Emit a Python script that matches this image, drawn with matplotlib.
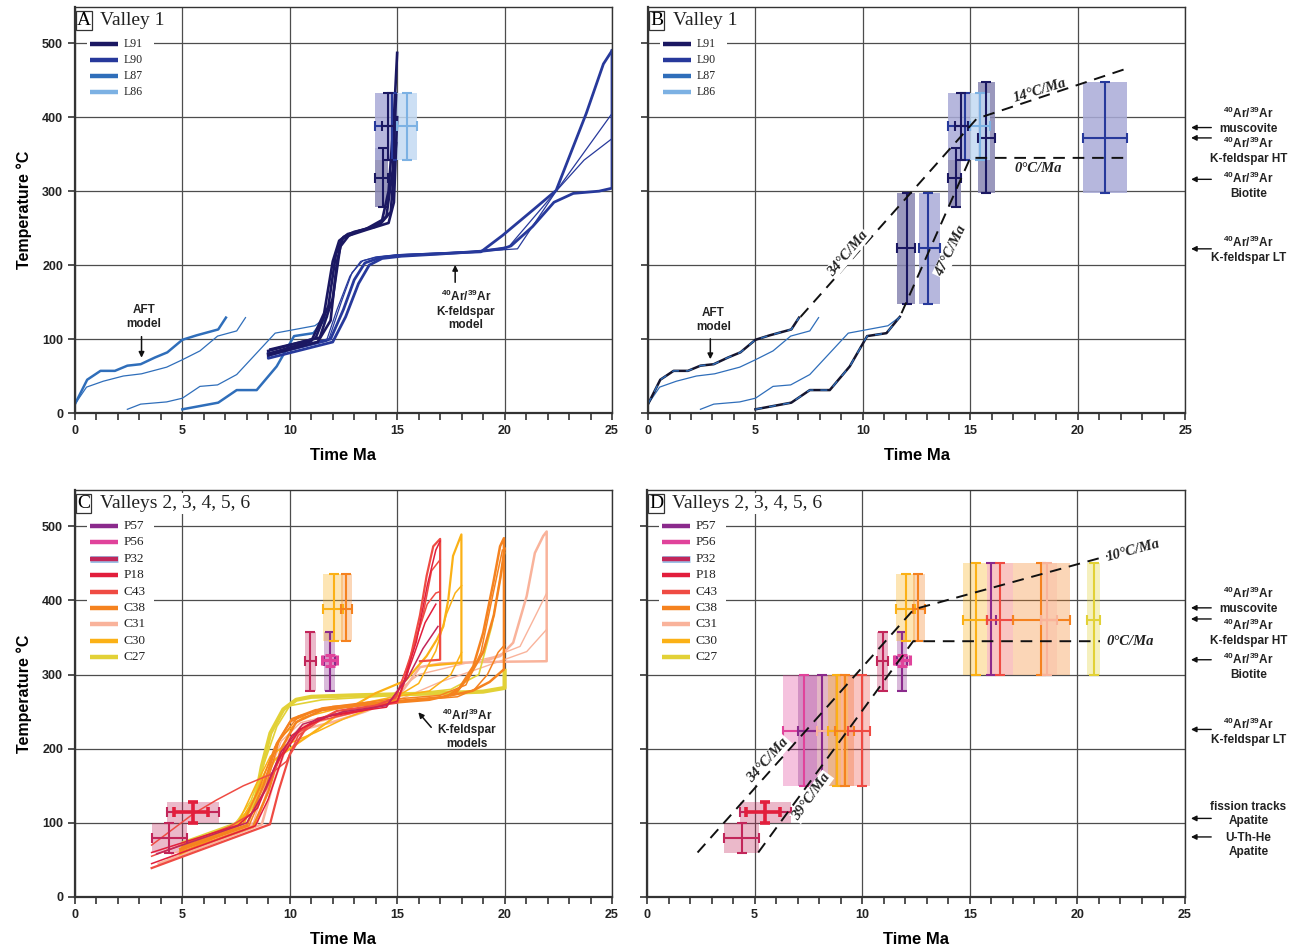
import matplotlib
matplotlib.use("Agg")
import matplotlib.pyplot as plt
import matplotlib.patheffects as pe
from matplotlib.patches import Rectangle
from matplotlib.ticker import MultipleLocator

plt.rcParams["font.family"] = ["Liberation Sans", "DejaVu Sans"]
plt.rcParams["mathtext.fontset"] = "custom"
plt.rcParams["mathtext.rm"] = "Liberation Sans:bold"
plt.rcParams["mathtext.default"] = "rm"

SERIF = ["Liberation Serif", "DejaVu Serif"]
AR = r"$^{40}$Ar/$^{39}$Ar"

# ---------------- Valley 1 (panels A and B) ----------------
v1_samples = ["L91", "L90", "L87", "L86"]
v1_colors = {"L91": "#1b1862", "L90": "#27399b", "L87": "#2f6eba", "L86": "#7cb1e3"}
v1_fills = {"L91": "#8886b2", "L90": "#a9abd8", "L86": "#c4daf3"}

# AFT model paths, (time Ma, temperature C)
aft_upper_thick = [(0, 12), (0.57, 45), (1.19, 57), (1.86, 57), (2.44, 64), (3.06, 66), (3.72, 75),
                   (4.3, 82), (5.0, 99), (5.66, 105), (6.67, 113), (7.03, 129)]
aft_upper_thin = [(0, 12), (0.54, 35), (1.32, 43), (2.25, 50), (3.1, 53), (4.27, 62), (5.0, 72),
                  (5.82, 84), (6.64, 104), (7.53, 111), (7.94, 129)]
aft_lower_thin = [(2.44, 5), (3.06, 12), (4.27, 15), (5.0, 20), (5.82, 36), (6.64, 38), (7.53, 52),
                  (9.32, 108), (11.17, 118), (11.72, 130)]
aft_lower_thick = [(5.0, 5), (6.67, 14), (7.53, 31), (8.46, 31), (9.39, 63), (10.2, 104), (11.1, 108),
                   (11.72, 130)]

# K-feldspar model paths
l91_paths = [
    [(9.0, 80), (11.0, 97), (11.6, 135), (12.0, 205), (12.3, 233), (12.7, 242), (13.5, 248), (14.3, 261),
     (14.6, 300), (14.85, 400), (15.0, 487)],
    [(9.0, 84), (11.2, 101), (11.8, 145), (12.15, 215), (12.5, 238), (13.0, 245), (14.0, 252), (14.5, 266),
     (14.8, 330), (14.95, 430)],
    [(9.1, 86), (11.4, 102), (12.0, 155), (12.35, 225), (12.75, 240), (13.6, 248), (14.6, 257), (14.85, 285),
     (15.0, 400)],
    [(9.0, 78), (11.3, 96), (11.9, 125), (12.2, 205), (12.45, 236), (13.2, 246), (14.2, 255), (14.7, 272),
     (14.95, 365)],
]
l90_paths = [
    [(9.0, 82), (9.0, 74), (12.0, 96), (12.6, 130), (13.2, 175), (13.7, 200), (14.3, 209), (15.2, 212),
     (17.0, 215), (19.0, 219), (19.9, 222), (20.3, 226), (21.3, 252), (22.3, 285), (23.2, 297), (24.4, 300),
     (25.0, 304), (25.0, 490)],
    [(9.0, 80), (11.9, 100), (12.5, 140), (13.0, 180), (13.5, 203), (14.2, 210), (15.0, 213), (18.9, 218),
     (19.9, 240), (21.3, 274), (22.4, 301), (23.8, 405), (24.6, 472), (25.0, 490)],
    [(9.0, 77), (11.8, 98), (12.4, 150), (12.9, 190), (13.4, 206), (14.1, 211), (15.2, 214), (18.5, 218),
     (20.2, 225), (22.4, 300), (25.0, 405)],
    [(9.0, 78), (11.7, 97), (12.2, 140), (12.8, 185), (13.3, 205), (14.0, 211), (15.0, 214), (19.0, 219),
     (20.6, 222), (22.4, 300), (23.7, 342), (25.0, 371)],
]
l90_widths = [2.0, 2.0, 0.9, 0.9]

# sample, t, t_lo, t_hi, T, T_lo, T_hi, shaded, linewidth
v1_mica_ages = [
    ("L91", 14.34, 13.98, 14.55, 318, 278, 358, True, 1.5),   # biotite
    ("L90", 14.76, 13.98, 15.0, 388, 342, 433, True, 1.5),    # muscovite
    ("L91", 14.55, 14.3, 14.9, 388, 342, 433, False, 1.5),
    ("L86", 15.45, 15.0, 15.9, 388, 342, 433, True, 1.5),
]
v1_kfs_ages = [
    ("L91", 12.05, 11.6, 12.45, 223, 148, 298, True, 1.5),    # K-feldspar LT
    ("L90", 13.05, 12.6, 13.6, 223, 148, 298, True, 1.5),
    ("L91", 15.75, 15.35, 16.15, 372, 298, 448, True, 1.5),   # K-feldspar HT
    ("L90", 21.28, 20.25, 22.3, 372, 298, 448, True, 1.5),
]
v1_rate_upper = [(7.1, 130), (15.3, 398), (22.2, 465)]
v1_rate_lower = [(11.8, 135), (15.0, 345), (22.3, 345)]

# ---------------- Valleys 2-6 (panels C and D) ----------------
v2_samples = ["P57", "P56", "P32", "P18", "C43", "C38", "C31", "C30", "C27"]
v2_colors = {"P57": "#8b2a8c", "P56": "#e0439b", "P32": "#c2265a", "P18": "#e21e3c", "C43": "#ef4b43",
             "C38": "#f5821f", "C31": "#f9b39b", "C30": "#fbb116", "C27": "#e2d137"}

c31_paths = [
    [(3.9, 45), (8.7, 98), (9.2, 150), (9.8, 200), (10.6, 226), (12.0, 236), (13.5, 250), (15.0, 268),
     (16.06, 310), (17.0, 315), (19.0, 317), (21.96, 318), (21.96, 493), (21.8, 487), (21.41, 464),
     (21.03, 406), (20.4, 343), (19.8, 325), (19.0, 318)],
    [(4.3, 52), (8.5, 100), (9.0, 150), (9.7, 205), (10.5, 230), (12.0, 241), (14.0, 256), (16.0, 300),
     (18.0, 314), (19.5, 324), (20.72, 338), (21.5, 383), (21.96, 410)],
    [(4.5, 58), (8.3, 100), (8.9, 155), (9.6, 210), (10.5, 235), (12.5, 250), (15.0, 265), (17.0, 290),
     (19.0, 310), (21.03, 331), (21.96, 361)],
]
c27_paths = [
    [(5.0, 70), (7.4, 96), (8.0, 112), (8.4, 131), (8.7, 176), (9.1, 221), (9.7, 253), (10.3, 266),
     (11.0, 270), (13.0, 272), (16.0, 274), (19.0, 277), (20.0, 282), (20.0, 305)],
    [(5.0, 74), (7.5, 100), (8.2, 130), (8.8, 180), (9.4, 230), (10.0, 258), (11.5, 266), (15.0, 272),
     (17.5, 280), (18.8, 300), (19.4, 365), (19.8, 430), (20.0, 464)],
]
c30_paths = [
    [(4.9, 58), (7.6, 96), (8.5, 140), (9.3, 185), (10.0, 200), (11.0, 220), (12.2, 245), (14.0, 275),
     (15.4, 292), (16.37, 325), (16.84, 347), (17.15, 365), (17.38, 401), (17.6, 460), (17.99, 489),
     (17.99, 316), (16.5, 312)],
    [(4.9, 62), (7.6, 100), (8.4, 150), (9.1, 190), (9.8, 205), (11.2, 222), (12.5, 240), (14.5, 262),
     (16.0, 288), (16.8, 332), (17.3, 382), (17.7, 410), (18.0, 420)],
    [(5.0, 66), (7.9, 100), (8.7, 160), (9.6, 216), (10.6, 242), (12.5, 256), (14.5, 268), (16.5, 278),
     (17.5, 300), (18.0, 330)],
]
c38_paths = [
    [(4.9, 60), (8.3, 95), (9.0, 142), (9.6, 200), (10.3, 236), (11.5, 252), (14.0, 262), (17.3, 270),
     (17.9, 282), (18.54, 311), (19.0, 356), (19.47, 423), (19.79, 473), (19.97, 484), (19.97, 307),
     (19.3, 290), (18.5, 278), (17.5, 272)],
    [(4.9, 65), (8.0, 97), (8.8, 152), (9.4, 207), (10.1, 240), (11.2, 252), (13.5, 259), (16.5, 266),
     (17.7, 274), (18.4, 300), (19.0, 330), (19.5, 380), (19.8, 430), (20.0, 470)],
    [(5.0, 68), (7.8, 98), (8.6, 148), (9.3, 202), (10.0, 236), (11.5, 255), (14.5, 266), (17.0, 272),
     (18.2, 286), (18.9, 330), (19.4, 400), (19.9, 468)],
    [(4.9, 63), (8.1, 96), (8.9, 150), (9.5, 210), (10.4, 244), (12.0, 257), (15.0, 264), (17.8, 270),
     (18.6, 280), (19.2, 300), (19.7, 330), (20.0, 340)],
]
c43_paths = [
    [(3.57, 39), (9.08, 98), (9.5, 145), (10.0, 192), (10.8, 230), (12.2, 251), (15.0, 262), (15.45, 300),
     (15.75, 340), (16.06, 380), (16.37, 433), (16.68, 473), (17.0, 483), (17.0, 320), (16.06, 318)],
    [(3.57, 70), (5.5, 112), (6.6, 131), (7.84, 150), (9.08, 165), (9.85, 183), (10.4, 218), (11.4, 238),
     (13.5, 252), (14.97, 270), (15.44, 310), (15.9, 350), (16.4, 395), (16.8, 410), (17.0, 412)],
    [(3.57, 55), (7.2, 95), (8.2, 112), (8.9, 145), (9.6, 190), (10.3, 220), (11.6, 243), (13.6, 254),
     (14.9, 268), (15.6, 320), (16.2, 380), (16.6, 440), (17.0, 455)],
]
p18_paths = [
    [(3.57, 45), (8.4, 96), (9.0, 132), (9.7, 192), (10.5, 227), (12.0, 246), (14.5, 256), (15.3, 290),
     (15.9, 345), (16.4, 420), (16.8, 468), (17.0, 480)],
    [(3.57, 60), (7.6, 97), (8.5, 120), (9.3, 175), (10.1, 218), (11.3, 241), (13.5, 252), (15.0, 264),
     (15.7, 320), (16.3, 370), (16.8, 395)],
]
p32_paths = [
    [(3.8, 58), (8.0, 100), (8.8, 142), (9.6, 196), (10.6, 233), (12.5, 250), (14.5, 258), (15.5, 296),
     (16.2, 335), (16.9, 365)],
]
# drawing order: sample, paths, widths
v2_path_groups = [
    ("C31", c31_paths, [1.8, 1.0, 1.0]),
    ("C27", c27_paths, [3.0, 1.2]),
    ("C30", c30_paths, [1.6, 1.1, 1.1]),
    ("C38", c38_paths, [1.8, 1.8, 1.1, 1.1]),
    ("C43", c43_paths, [1.6, 1.1, 1.1]),
    ("P18", p18_paths, [1.1, 1.1]),
    ("P32", p32_paths, [1.1]),
]

v2_thermo_ages = [
    ("P32", 4.4, 3.58, 5.2, 80, 60, 100, True, 1.5),        # U-Th-He apatite
    ("P32", 5.48, 4.3, 6.7, 114, 100, 128, True, 1.5),      # fission tracks apatite
    ("P18", 5.48, 4.6, 6.2, 114, 100, 128, False, 2.6),
    ("P32", 10.95, 10.7, 11.2, 318, 278, 358, True, 1.5),   # biotite
    ("P57", 11.85, 11.6, 12.1, 318, 278, 358, True, 1.5),
    ("P56", 11.85, 11.5, 12.2, 319, 311, 327, True, 2.2),
    ("C30", 12.04, 11.57, 12.47, 389, 345, 435, True, 1.5),  # muscovite
    ("C38", 12.61, 12.37, 12.9, 389, 345, 435, True, 1.5),
]
v2_kfs_ages = [
    ("P56", 7.3, 6.3, 7.92, 224, 150, 299, True, 1.5),      # K-feldspar LT
    ("P57", 8.15, 7.0, 8.8, 224, 150, 299, True, 1.5),
    ("C31", 9.05, 7.92, 9.35, 224, 150, 299, True, 1.5),
    ("C30", 8.85, 8.4, 9.35, 224, 150, 299, True, 1.5),
    ("C38", 9.2, 8.75, 9.6, 224, 150, 299, True, 1.5),
    ("C43", 10.0, 9.35, 10.36, 224, 150, 299, True, 1.5),
    ("C30", 15.29, 14.7, 15.78, 374, 299, 450, True, 1.5),  # K-feldspar HT
    ("P57", 16.0, 15.8, 16.2, 374, 299, 450, False, 1.5),
    ("C43", 16.4, 15.78, 17.0, 374, 299, 450, True, 1.5),
    ("C38", 18.3, 17.02, 19.66, 374, 299, 450, True, 1.5),
    ("C31", 18.6, 18.3, 19.05, 374, 299, 450, True, 1.5),
    ("C27", 20.77, 20.47, 21.05, 374, 299, 450, True, 1.5),
]
v2_rate_upper = [(2.35, 60), (12.4, 388), (21.4, 460)]
v2_rate_lower = [(5.17, 60), (12.37, 345), (21.05, 345)]

# right-hand labels: arrow temperature, text, text temperature
v1_side_notes = [(386, AR + "\nmuscovite", 396), (372, AR + "\nK-feldspar HT", 355),
                 (316, AR + "\nBiotite", 308), (222, AR + "\nK-feldspar LT", 221)]
v2_side_notes = [(390, AR + "\nmuscovite", 400), (375, AR + "\nK-feldspar HT", 357),
                 (320, AR + "\nBiotite", 311), (226, AR + "\nK-feldspar LT", 223),
                 (106, "fission tracks\nApatite", 112), (81, "U-Th-He\nApatite", 70)]


def style_axes(ax, letter, title, ylabels):
    ax.set_xlim(0, 25)
    ax.set_ylim(0, 549)
    ax.xaxis.set_major_locator(MultipleLocator(5))
    ax.xaxis.set_minor_locator(MultipleLocator(1))
    ax.yaxis.set_major_locator(MultipleLocator(100))
    ax.tick_params(which="both", direction="out", length=5, width=1.1, colors="#222", labelsize=9)
    ax.grid(which="major", color="#4d4d4d", lw=0.9)
    ax.set_axisbelow(True)
    for s in ax.spines.values():
        s.set_color("#333")
        s.set_linewidth(1.0)
    ax.spines["bottom"].set_linewidth(1.6)
    ax.spines["left"].set_linewidth(1.6)
    ax.set_xlabel("Time Ma", fontsize=12, fontweight="bold", labelpad=8)
    if ylabels:
        ax.set_ylabel("Temperature °C", fontsize=11.5, fontweight="bold", labelpad=7)
    else:
        ax.tick_params(axis="y", labelleft=False)
    for lab in ax.get_xticklabels() + ax.get_yticklabels():
        lab.set_fontweight("bold")
    ax.text(0.004, 0.988, letter, transform=ax.transAxes, family=SERIF, fontsize=14, va="top", ha="left",
            zorder=8, bbox=dict(boxstyle="square,pad=0.06", fc="white", ec="#333", lw=0.9))
    ax.text(0.047, 0.988, title, transform=ax.transAxes, family=SERIF, fontsize=14, va="top", ha="left",
            color="#222", zorder=8, bbox=dict(boxstyle="square,pad=0.12", fc="white", ec="none"))


def draw_legend(ax, names, colors, top, step, fontsize, outlined=()):
    n = len(names)
    ax.add_patch(Rectangle((0.022, top - step * (n - 1) - 0.028), 0.125, step * (n - 1) + 0.056,
                           transform=ax.transAxes, fc="white", ec="none", zorder=6))
    for i, name in enumerate(names):
        y = top - i * step
        effects = [pe.Stroke(linewidth=5, foreground="#9cc0e6"), pe.Normal()] if name in outlined else None
        ax.plot([0.028, 0.08], [y, y], transform=ax.transAxes, color=colors[name], lw=3.2,
                solid_capstyle="butt", zorder=7, path_effects=effects)
        ax.text(0.09, y, name, transform=ax.transAxes, family=SERIF, fontsize=fontsize, va="center",
                color="#222", zorder=7)


def draw_ages(ax, ages, colors, fills=None, alpha=0.32):
    for name, t, t_lo, t_hi, T, T_lo, T_hi, shaded, lw in ages:
        if shaded:
            fc = fills[name] if fills else colors[name]
            ax.add_patch(Rectangle((t_lo, T_lo), t_hi - t_lo, T_hi - T_lo, fc=fc, ec="none",
                                   alpha=0.85 if fills else alpha, zorder=1.5))
    for name, t, t_lo, t_hi, T, T_lo, T_hi, shaded, lw in ages:
        ax.errorbar([t], [T], xerr=[[t - t_lo], [t_hi - t]], yerr=[[T - T_lo], [T_hi - T]],
                    color=colors[name], lw=lw, capsize=3.5, capthick=lw, zorder=4)


def plot_path(ax, path, **kw):
    t, T = zip(*path)
    ax.plot(t, T, **kw)


def draw_side_notes(ax, notes):
    for T_arrow, text, T_text in notes:
        ax.annotate("", xy=(25.15, T_arrow), xytext=(26.35, T_arrow), annotation_clip=False,
                    arrowprops=dict(arrowstyle="-|>", color="#111", lw=1.0, mutation_scale=8))
        ax.text(27.95, T_text, text, ha="center", va="center", fontsize=8.5, fontweight="bold",
                color="#222", clip_on=False, linespacing=1.25)


def rate_label(ax, t, T, text, rot, boxed=False):
    ax.text(t, T, text, family=SERIF, style="italic", fontweight="bold", fontsize=10.5, rotation=rot,
            ha="center", va="center", color="#222", zorder=6,
            bbox=dict(fc="white", ec="none", pad=0.6) if boxed else None)


def arrow_note(ax, text, xy, xytext, t_text, T_text):
    ax.annotate("", xy=xy, xytext=xytext,
                arrowprops=dict(arrowstyle="-|>", color="#111", lw=1.1, mutation_scale=8))
    ax.text(t_text, T_text, text, ha="center", va="center", fontsize=8.5, fontweight="bold",
            color="#222", linespacing=1.15)


fig = plt.figure(figsize=(13.01, 9.49), dpi=100)
ax_a = fig.add_axes([0.0576, 0.5648, 0.4128, 0.4278])
ax_b = fig.add_axes([0.4981, 0.5648, 0.4128, 0.4278])
ax_c = fig.add_axes([0.0576, 0.0548, 0.4128, 0.4289])
ax_d = fig.add_axes([0.4973, 0.0548, 0.4135, 0.4289])

style_axes(ax_a, "A", "Valley 1", True)
style_axes(ax_b, "B", "Valley 1", False)
style_axes(ax_c, "C", "Valleys 2, 3, 4, 5, 6", True)
style_axes(ax_d, "D", "Valleys 2, 3, 4, 5, 6", False)

# ---- panel A ----
for path, lw in zip([aft_upper_thick, aft_upper_thin, aft_lower_thin, aft_lower_thick], [1.8, 0.9, 0.9, 1.8]):
    plot_path(ax_a, path, color=v1_colors["L87"], lw=lw, zorder=2)
for path, lw in zip(l90_paths, l90_widths):
    plot_path(ax_a, path, color=v1_colors["L90"], lw=lw, zorder=2)
for path in l91_paths:
    plot_path(ax_a, path, color=v1_colors["L91"], lw=1.9, zorder=2.5)
draw_ages(ax_a, v1_mica_ages, v1_colors, v1_fills)
arrow_note(ax_a, "AFT\nmodel", (3.1, 71), (3.1, 107), 3.2, 130)
arrow_note(ax_a, AR + "\nK-feldspar\nmodel", (17.7, 204), (17.7, 173), 18.2, 139)
draw_legend(ax_a, v1_samples, v1_colors, 0.909, 0.0394, 8.5)

# ---- panel B ----
for path, lw in zip([aft_upper_thin, aft_lower_thin], [0.9, 0.9]):
    plot_path(ax_b, path, color=v1_colors["L87"], lw=lw, zorder=2)
for path in [aft_upper_thick, aft_lower_thick]:
    plot_path(ax_b, path, color="#15152e", lw=1.8, zorder=2)
    plot_path(ax_b, path, color=v1_colors["L87"], lw=1.0, ls=(0, (5, 5)), zorder=2.1)
draw_ages(ax_b, v1_kfs_ages + v1_mica_ages, v1_colors, v1_fills)
plot_path(ax_b, v1_rate_upper, color="#111", lw=1.4, ls=(0, (6, 4)), zorder=5)
plot_path(ax_b, v1_rate_lower, color="#111", lw=1.4, ls=(0, (6, 4)), zorder=5)
rate_label(ax_b, 18.25, 436, "14°C/Ma", 17)
rate_label(ax_b, 18.15, 330, "0°C/Ma", 0)
rate_label(ax_b, 9.3, 216, "34°C/Ma", 50, boxed=True)
rate_label(ax_b, 14.1, 219, "47°C/Ma", 64, boxed=True)
arrow_note(ax_b, "AFT\nmodel", (2.9, 69), (2.9, 104), 3.05, 126)
draw_side_notes(ax_b, v1_side_notes)
draw_legend(ax_b, v1_samples, v1_colors, 0.909, 0.0394, 8.5)

# ---- panel C ----
for name, paths, widths in v2_path_groups:
    for path, lw in zip(paths, widths):
        plot_path(ax_c, path, color=v2_colors[name], lw=lw, zorder=2)
draw_ages(ax_c, v2_thermo_ages, v2_colors)
arrow_note(ax_c, AR + "\nK-feldspar\nmodels", (15.9, 252), (16.67, 226), 18.25, 227)
draw_legend(ax_c, v2_samples, v2_colors, 0.9115, 0.0403, 9.5, outlined=("P32",))

# ---- panel D ----
draw_ages(ax_d, v2_kfs_ages + v2_thermo_ages, v2_colors)
plot_path(ax_d, v2_rate_upper, color="#111", lw=1.4, ls=(0, (6, 4)), zorder=5)
plot_path(ax_d, v2_rate_lower, color="#111", lw=1.4, ls=(0, (6, 4)), zorder=5)
rate_label(ax_d, 22.6, 468, "10°C/Ma", 15)
rate_label(ax_d, 22.45, 345, "0°C/Ma", 0)
rate_label(ax_d, 5.64, 185, "34°C/Ma", 48, boxed=True)
rate_label(ax_d, 7.65, 135, "39°C/Ma", 54, boxed=True)
draw_side_notes(ax_d, v2_side_notes)
draw_legend(ax_d, v2_samples, v2_colors, 0.9115, 0.0403, 9.5, outlined=("P32",))

fig.savefig("out.png", dpi=100)
